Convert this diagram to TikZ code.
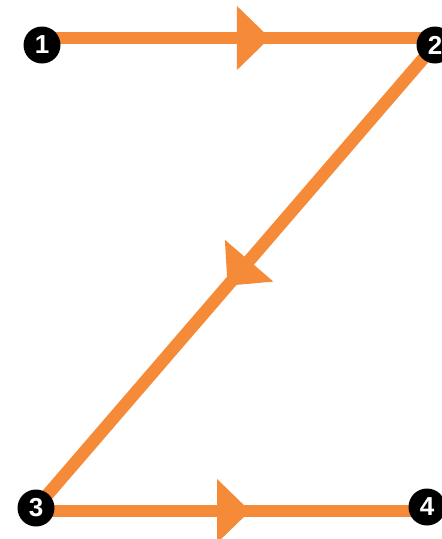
\documentclass[tikz,border=0pt]{standalone}
\usepackage{fontspec}
\setmainfont{Liberation Sans}
\usetikzlibrary{decorations.markings}
\pgfdeclarelayer{bg}
\pgfsetlayers{bg,main}
\definecolor{zorange}{RGB}{245,139,56}
\tikzset{
  numdot/.style={circle, fill=black, minimum size=37pt, inner sep=0pt, text=white,
    font=\fontsize{26}{26}\selectfont\bfseries},
  route/.style={draw=zorange, line width=12.5pt},
  arrowmid/.style={postaction={decorate}, decoration={markings,
    mark=at position #1 with {\fill[zorange] (0pt,32pt) -- (33pt,0pt) -- (0pt,-32pt) -- cycle;}}}
}
\begin{document}
\begin{tikzpicture}[x=1pt,y=-1pt]
\useasboundingbox (0,0) rectangle (442,539);
\clip (0,0) rectangle (442,539);
\node[numdot] (n1) at (42,45) {1};
\node[numdot] (n2) at (435,45) {2};
\node[numdot] (n3) at (36,508) {3};
\node[numdot] (n4) at (427,507) {4};
\begin{pgfonlayer}{bg}
\path[route, arrowmid=0.496] ([yshift=7pt]n1.center) -- ([yshift=7pt]n2.center);
\path[route, arrowmid=0.466] (n2.center) -- (n3.center);
\path[route, arrowmid=0.463] ([yshift=-3pt]n3.center) -- ([yshift=-4pt]n4.center);
\end{pgfonlayer}
\end{tikzpicture}
\end{document}
